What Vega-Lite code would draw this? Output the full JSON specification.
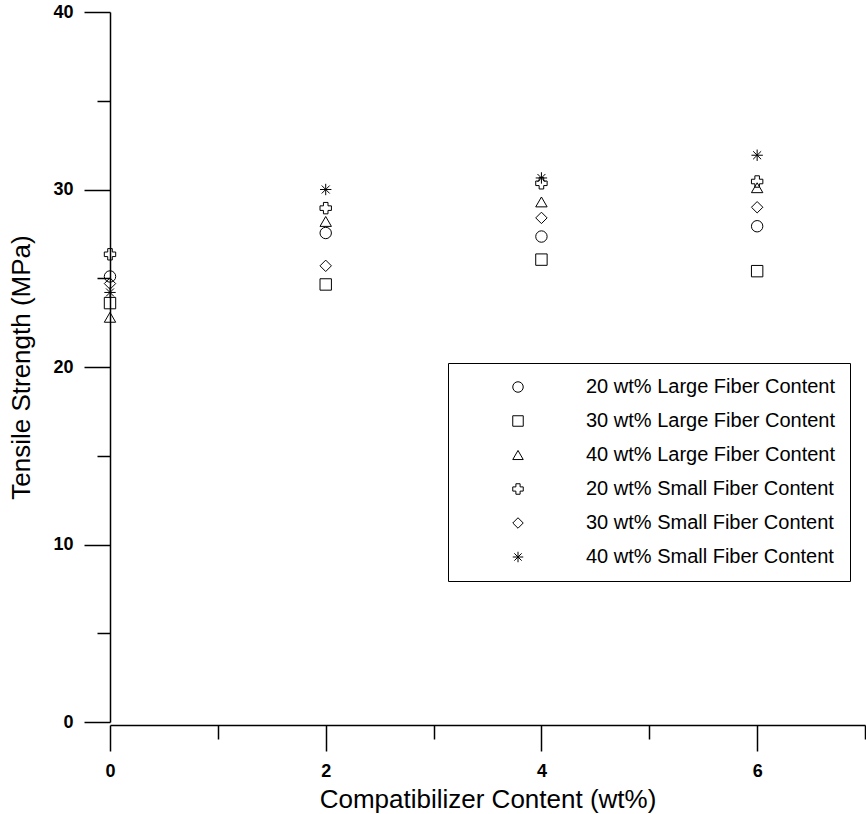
{
  "$schema": "https://vega.github.io/schema/vega-lite/v6.json",
  "autosize": "none",
  "width": 755,
  "height": 710,
  "padding": {"left": 110, "top": 12, "right": 1, "bottom": 92},
  "background": "white",
  "config": {
    "view": {"stroke": null},
    "font": "Liberation Sans",
    "axis": {
      "domainColor": "black",
      "domainWidth": 1.5,
      "tickColor": "black",
      "tickWidth": 1.5,
      "grid": false,
      "labelFont": "Liberation Sans",
      "labelFontWeight": "bold",
      "labelFontSize": 18,
      "labelColor": "black",
      "titleFont": "Liberation Sans",
      "titleFontWeight": "normal",
      "titleFontSize": 26,
      "titleColor": "black"
    }
  },
  "data": {
    "values": [
      {"x": 0, "y": 25.1, "series": "20 wt% Large Fiber Content"},
      {"x": 0, "y": 23.6, "series": "30 wt% Large Fiber Content"},
      {"x": 0, "y": 22.8, "series": "40 wt% Large Fiber Content"},
      {"x": 0, "y": 26.35, "series": "20 wt% Small Fiber Content"},
      {"x": 0, "y": 24.7, "series": "30 wt% Small Fiber Content"},
      {"x": 0, "y": 24.2, "series": "40 wt% Small Fiber Content"},
      {"x": 2, "y": 27.55, "series": "20 wt% Large Fiber Content"},
      {"x": 2, "y": 24.65, "series": "30 wt% Large Fiber Content"},
      {"x": 2, "y": 28.2, "series": "40 wt% Large Fiber Content"},
      {"x": 2, "y": 28.95, "series": "20 wt% Small Fiber Content"},
      {"x": 2, "y": 25.7, "series": "30 wt% Small Fiber Content"},
      {"x": 2, "y": 30.0, "series": "40 wt% Small Fiber Content"},
      {"x": 4, "y": 27.35, "series": "20 wt% Large Fiber Content"},
      {"x": 4, "y": 26.05, "series": "30 wt% Large Fiber Content"},
      {"x": 4, "y": 29.3, "series": "40 wt% Large Fiber Content"},
      {"x": 4, "y": 30.35, "series": "20 wt% Small Fiber Content"},
      {"x": 4, "y": 28.4, "series": "30 wt% Small Fiber Content"},
      {"x": 4, "y": 30.65, "series": "40 wt% Small Fiber Content"},
      {"x": 6, "y": 27.93, "series": "20 wt% Large Fiber Content"},
      {"x": 6, "y": 25.4, "series": "30 wt% Large Fiber Content"},
      {"x": 6, "y": 30.1, "series": "40 wt% Large Fiber Content"},
      {"x": 6, "y": 30.45, "series": "20 wt% Small Fiber Content"},
      {"x": 6, "y": 29.0, "series": "30 wt% Small Fiber Content"},
      {"x": 6, "y": 31.93, "series": "40 wt% Small Fiber Content"}
    ]
  },
  "mark": {"type": "point", "filled": false, "stroke": "black", "strokeWidth": 1, "size": 130, "opacity": 1},
  "encoding": {
    "x": {
      "field": "x", "type": "quantitative",
      "scale": {"domain": [0, 7], "nice": false, "zero": false},
      "axis": {
        "title": "Compatibilizer Content (wt%)",
        "values": [0, 1, 2, 3, 4, 5, 6, 7],
        "labelExpr": "datum.value % 2 === 0 && datum.value < 7 ? datum.label : ''",
        "tickSize": {"condition": {"test": "datum.value % 2 === 0", "value": 26}, "value": 14},
        "offset": 3,
        "labelPadding": 11,
        "titlePadding": 6,
        "labelFlush": false
      }
    },
    "y": {
      "field": "y", "type": "quantitative",
      "scale": {"domain": [0, 40], "nice": false},
      "axis": {
        "title": "Tensile Strength (MPa)",
        "values": [0, 5, 10, 15, 20, 25, 30, 35, 40],
        "labelExpr": "datum.value % 10 === 0 ? datum.label : ''",
        "tickSize": {"condition": {"test": "datum.value % 10 === 0", "value": 26}, "value": 13},
        "labelPadding": 11,
        "titlePadding": 18,
        "labelFlush": false
      }
    },
    "shape": {
      "field": "series", "type": "nominal",
      "scale": {
        "domain": ["20 wt% Large Fiber Content", "30 wt% Large Fiber Content", "40 wt% Large Fiber Content", "20 wt% Small Fiber Content", "30 wt% Small Fiber Content", "40 wt% Small Fiber Content"],
        "range": ["circle", "square", "triangle-up", "cross", "diamond", "M-1,0H1M0,-1V1M-0.7,-0.7L0.7,0.7M-0.7,0.7L0.7,-0.7"]
      },
      "legend": {
        "title": null,
        "orient": "none",
        "legendX": 338,
        "legendY": 351,
        "strokeColor": "black",
        "fillColor": "white",
        "padding": 14,
        "symbolOffset": 46,
        "symbolSize": 110,
        "symbolStrokeColor": "black",
        "symbolStrokeWidth": 1,
        "symbolFillColor": "transparent",
        "labelOffset": 58,
        "labelFont": "Liberation Sans",
        "labelFontSize": 20,
        "labelColor": "black",
        "labelLimit": 400,
        "rowPadding": 14
      }
    }
  }
}
